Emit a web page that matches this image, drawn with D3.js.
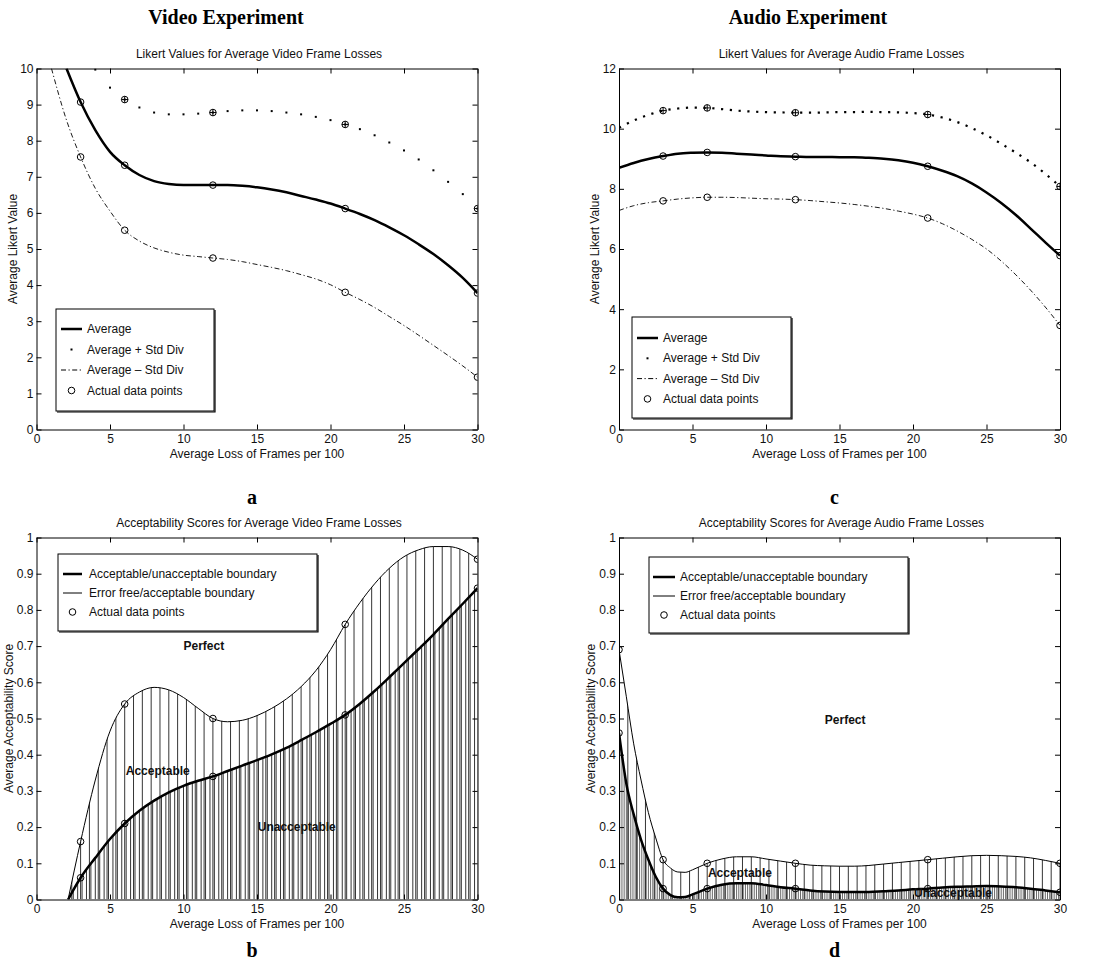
<!DOCTYPE html>
<html>
<head>
<meta charset="utf-8">
<script src="https://cdn.jsdelivr.net/npm/d3@7"></script>
<style>
  body { margin: 0; background: #fff; }
  svg text { font-family: "Liberation Sans", Arial, Helvetica, sans-serif; fill: #111; }
  svg .tick text { font-size: 12px; }
  svg text.heading { font-family: "Liberation Serif", "Times New Roman", serif; font-weight: bold; font-size: 20px; fill: #000; }
  svg text.zone { font-weight: bold; font-size: 12px; }
</style>
</head>
<body>
<div id="chart"></div>
<script>
// ---------- values ----------
var xTicks = [0, 5, 10, 15, 20, 25, 30];
var likertTicksVideo = [0, 1, 2, 3, 4, 5, 6, 7, 8, 9, 10];
var likertTicksAudio = [0, 2, 4, 6, 8, 10, 12];
var accTicks = [0, 0.1, 0.2, 0.3, 0.4, 0.5, 0.6, 0.7, 0.8, 0.9, 1];

// measured loss levels (frames per 100)
var lossPoints = [3, 6, 12, 21, 30];
var lossPointsAudioAcc = [0, 3, 6, 12, 21, 30];

// (a) video likert: measured points
var videoAvg = [9.07, 7.32, 6.77, 6.12, 3.78];
var videoPlus = [10.59, 9.14, 8.78, 8.45, 6.12];
var videoMinus = [7.55, 5.52, 4.75, 3.80, 1.45];
// (a) fitted curves, read at whole frame counts
var videoAvgCurve = [[2.04,10],[3,9.07],[4,8.29],[5,7.69],[6,7.32],[7,7.05],[8,6.88],[9,6.80],[10,6.77],[11,6.77],[12,6.77],[13,6.77],[14,6.75],[15,6.71],[16,6.65],[17,6.57],[18,6.47],[19,6.37],[20,6.26],[21,6.12],[22,5.97],[23,5.80],[24,5.60],[25,5.38],[26,5.13],[27,4.86],[28,4.55],[29,4.20],[30,3.78]];
var videoPlusDots = [[4,9.97],[5,9.47],[6,9.14],[7,8.92],[8,8.78],[9,8.73],[10,8.73],[11,8.75],[12,8.78],[13,8.82],[14,8.84],[15,8.84],[16,8.82],[17,8.78],[18,8.73],[19,8.66],[20,8.57],[21,8.45],[22,8.32],[23,8.15],[24,7.95],[25,7.73],[26,7.48],[27,7.18],[28,6.86],[29,6.52],[30,6.12]];
var videoMinusCurve = [[1.02,10],[2,8.62],[3,7.55],[4,6.68],[5,6.05],[6,5.52],[7,5.22],[8,5.03],[9,4.91],[10,4.83],[11,4.79],[12,4.75],[13,4.71],[14,4.65],[15,4.57],[16,4.49],[17,4.40],[18,4.29],[19,4.17],[20,4.01],[21,3.80],[22,3.60],[23,3.38],[24,3.13],[25,2.88],[26,2.61],[27,2.33],[28,2.05],[29,1.76],[30,1.45]];

// (c) audio likert: measured points
var audioAvg = [9.09, 9.21, 9.07, 8.75, 5.78];
var audioPlus = [10.60, 10.69, 10.53, 10.47, 8.08];
var audioMinus = [7.60, 7.72, 7.64, 7.03, 3.46];
// (c) fitted curves
var audioAvgCurve = [[0,8.70],[1,8.86],[2,8.99],[3,9.09],[4,9.17],[5,9.20],[6,9.21],[7,9.20],[8,9.17],[9,9.14],[10,9.11],[11,9.08],[12,9.07],[13,9.06],[14,9.06],[15,9.05],[16,9.05],[17,9.03],[18,9.00],[19,8.95],[20,8.87],[21,8.75],[22,8.60],[23,8.42],[24,8.18],[25,7.88],[26,7.53],[27,7.13],[28,6.68],[29,6.22],[30,5.78]];
var audioPlusCurve = [[0,10.03],[1,10.27],[2,10.46],[3,10.60],[4,10.67],[5,10.70],[6,10.69],[7,10.65],[8,10.60],[9,10.57],[10,10.55],[11,10.54],[12,10.53],[13,10.53],[14,10.54],[15,10.55],[16,10.55],[17,10.56],[18,10.55],[19,10.54],[20,10.52],[21,10.47],[22,10.37],[23,10.22],[24,10.02],[25,9.78],[26,9.50],[27,9.20],[28,8.88],[29,8.50],[30,8.08]];
var audioMinusCurve = [[0,7.28],[1,7.44],[2,7.54],[3,7.60],[4,7.66],[5,7.70],[6,7.72],[7,7.72],[8,7.71],[9,7.69],[10,7.67],[11,7.66],[12,7.64],[13,7.61],[14,7.57],[15,7.53],[16,7.48],[17,7.42],[18,7.35],[19,7.26],[20,7.16],[21,7.03],[22,6.84],[23,6.60],[24,6.32],[25,6.00],[26,5.60],[27,5.14],[28,4.63],[29,4.07],[30,3.46]];

// (b) video acceptability: measured points
var videoErrorFree = [0.16, 0.54, 0.50, 0.76, 0.94];
var videoAcceptable = [0.06, 0.21, 0.34, 0.51, 0.86];
// (b) fitted boundaries
var videoErrorFreeCurve = [[2.15,0],[3,0.16],[4,0.33],[5,0.465],[6,0.54],[7,0.573],[8,0.586],[9,0.579],[10,0.558],[11,0.528],[12,0.50],[13,0.491],[14,0.495],[15,0.508],[16,0.528],[17,0.554],[18,0.588],[19,0.632],[20,0.69],[21,0.76],[22,0.82],[23,0.872],[24,0.915],[25,0.947],[26,0.966],[27,0.975],[28,0.975],[29,0.965],[30,0.94]];
var videoAcceptableCurve = [[2.15,0],[3,0.06],[4,0.115],[5,0.167],[6,0.21],[7,0.245],[8,0.273],[9,0.296],[10,0.314],[11,0.328],[12,0.34],[13,0.355],[14,0.37],[15,0.385],[16,0.401],[17,0.419],[18,0.44],[19,0.462],[20,0.485],[21,0.51],[22,0.541],[23,0.576],[24,0.614],[25,0.653],[26,0.692],[27,0.732],[28,0.775],[29,0.817],[30,0.86]];

// (d) audio acceptability: measured points
var audioErrorFree = [0.69, 0.11, 0.10, 0.10, 0.11, 0.10];
var audioAcceptable = [0.46, 0.03, 0.03, 0.03, 0.03, 0.02];
// (d) fitted boundaries
var audioErrorFreeCurve = [[0,0.69],[0.5,0.56],[1,0.43],[1.5,0.33],[2,0.24],[2.5,0.17],[3,0.11],[3.5,0.087],[4,0.076],[4.5,0.075],[5,0.082],[6,0.10],[7,0.112],[8,0.118],[9,0.118],[10,0.112],[11,0.106],[12,0.10],[13,0.095],[14,0.093],[15,0.092],[16,0.092],[17,0.094],[18,0.098],[19,0.102],[20,0.106],[21,0.11],[22,0.114],[23,0.118],[24,0.121],[25,0.122],[26,0.121],[27,0.119],[28,0.115],[29,0.108],[30,0.10]];
var audioAcceptableCurve = [[0,0.46],[0.5,0.32],[1,0.235],[1.5,0.165],[2,0.11],[2.5,0.063],[3,0.03],[3.5,0.012],[4,0.006],[4.5,0.007],[5,0.014],[6,0.03],[7,0.041],[8,0.045],[9,0.045],[10,0.04],[11,0.034],[12,0.03],[13,0.025],[14,0.022],[15,0.021],[16,0.021],[17,0.021],[18,0.023],[19,0.025],[20,0.028],[21,0.03],[22,0.033],[23,0.035],[24,0.036],[25,0.037],[26,0.036],[27,0.034],[28,0.03],[29,0.025],[30,0.02]];

// ---------- drawing ----------
var svg = d3.select("#chart").append("svg")
    .attr("width", 1098)
    .attr("height", 963);

var dashDot = "5,2.5,1.2,2.5";

svg.append("text").attr("class", "heading")
    .attr("x", 226).attr("y", 24).attr("text-anchor", "middle")
    .text("Video Experiment");
svg.append("text").attr("class", "heading")
    .attr("x", 808).attr("y", 24).attr("text-anchor", "middle")
    .text("Audio Experiment");

function panel(id, box, yDomain, yTicks, title, yLabel, letter, letterY, yLabelOff) {
  var g = svg.append("g").attr("id", id);
  var x = d3.scaleLinear().domain([0, 30]).range([box.x0, box.x1]);
  var y = d3.scaleLinear().domain(yDomain).range([box.y1, box.y0]);

  g.append("clipPath").attr("id", id + "-clip").append("rect")
      .attr("x", box.x0).attr("y", box.y0)
      .attr("width", box.x1 - box.x0).attr("height", box.y1 - box.y0);
  var plot = g.append("g").attr("clip-path", "url(#" + id + "-clip)");

  // box with inward ticks on all four sides
  var axes = g.append("g");
  axes.append("g").attr("transform", "translate(0," + box.y1 + ")")
      .call(d3.axisBottom(x).tickValues(xTicks).tickSize(-5).tickSizeOuter(0).tickPadding(5));
  axes.append("g").attr("transform", "translate(0," + box.y0 + ")")
      .call(d3.axisTop(x).tickValues(xTicks).tickSize(-5).tickSizeOuter(0).tickFormat(""));
  axes.append("g").attr("transform", "translate(" + box.x0 + ",0)")
      .call(d3.axisLeft(y).tickValues(yTicks).tickSize(-5).tickSizeOuter(0).tickPadding(3).tickFormat(d => String(d)));
  axes.append("g").attr("transform", "translate(" + box.x1 + ",0)")
      .call(d3.axisRight(y).tickValues(yTicks).tickSize(-5).tickSizeOuter(0).tickFormat(""));
  axes.selectAll("path.domain").attr("stroke", "#000");
  axes.selectAll(".tick line").attr("stroke", "#000");

  var cx = (box.x0 + box.x1) / 2;
  g.append("text")
      .attr("x", cx + 2).attr("y", box.y0 - 11)
      .attr("text-anchor", "middle").style("font-size", "12px")
      .text(title);
  g.append("text")
      .attr("x", cx).attr("y", box.y1 + 28)
      .attr("text-anchor", "middle").style("font-size", "12px")
      .text("Average Loss of Frames per 100");
  g.append("text")
      .attr("transform", "rotate(-90)")
      .attr("x", -(box.y0 + box.y1) / 2).attr("y", box.x0 + yLabelOff)
      .attr("text-anchor", "middle").style("font-size", "12px")
      .text(yLabel);
  g.append("text").attr("class", "heading")
      .attr("x", cx - 5).attr("y", letterY).attr("text-anchor", "middle")
      .text(letter);

  var top = g.append("g");
  return {x: x, y: y, plot: plot, top: top};
}

function curve(p, data, width, dash) {
  var line = d3.line().x(d => p.x(d[0])).y(d => p.y(d[1])).curve(d3.curveMonotoneX);
  var path = p.plot.append("path")
      .attr("d", line(data))
      .attr("fill", "none")
      .attr("stroke", "#000")
      .attr("stroke-width", width);
  if (dash) path.attr("stroke-dasharray", dash);
  return path;
}

function markers(p, xs, vals, plus) {
  var pts = xs.map((v, i) => [v, vals[i]]);
  var m = p.plot.append("g").selectAll("g").data(pts).join("g")
      .attr("transform", d => "translate(" + p.x(d[0]) + "," + p.y(d[1]) + ")");
  m.append("circle").attr("r", 3.3)
      .attr("fill", "none").attr("stroke", "#000").attr("stroke-width", 1);
  if (plus) {
    m.append("path").attr("d", "M-3.3,0H3.3M0,-3.3V3.3")
        .attr("stroke", "#000").attr("stroke-width", 1);
  }
}

function hatch(p, id, data, step, offset, width) {
  var area = d3.area()
      .x(d => p.x(d[0]))
      .y0(p.y(0))
      .y1(d => p.y(d[1]))
      .curve(d3.curveMonotoneX);
  p.plot.append("clipPath").attr("id", id).append("path").attr("d", area(data));
  p.plot.append("g").attr("clip-path", "url(#" + id + ")")
      .selectAll("line").data(d3.range(offset, 30.001, step)).join("line")
      .attr("x1", d => p.x(d)).attr("x2", d => p.x(d))
      .attr("y1", p.y(0)).attr("y2", p.y(p.y.domain()[1]))
      .attr("stroke", "#000").attr("stroke-width", width);
}

function legend(p, box, rows) {
  var lg = p.top.append("g");
  lg.append("rect")
      .attr("x", box.x0).attr("y", box.y0)
      .attr("width", box.x1 - box.x0).attr("height", box.y1 - box.y0)
      .attr("fill", "#fff").attr("stroke", "#000").attr("stroke-width", 1);
  lg.append("path")
      .attr("d", "M" + (box.x0 + 1) + "," + (box.y1 + 1) + "H" + (box.x1 + 1) + "V" + (box.y0 + 1))
      .attr("fill", "none").attr("stroke", "#000").attr("stroke-width", 1.2);
  rows.forEach(function(r, i) {
    var yy = box.rowY + i * box.rowStep;
    var mid = (box.s0 + box.s1) / 2;
    if (r.type === "thick" || r.type === "thin" || r.type === "dashdot") {
      var l = lg.append("line")
          .attr("x1", box.s0).attr("x2", box.s1).attr("y1", yy).attr("y2", yy)
          .attr("stroke", "#000")
          .attr("stroke-width", r.type === "thick" ? 2.5 : 1);
      if (r.type === "dashdot") l.attr("stroke-dasharray", dashDot);
    } else if (r.type === "dot") {
      lg.append("rect").attr("x", mid - 1).attr("y", yy - 1)
          .attr("width", 2).attr("height", 2).attr("fill", "#000");
    } else if (r.type === "circle") {
      lg.append("circle").attr("cx", mid).attr("cy", yy).attr("r", 3.3)
          .attr("fill", "none").attr("stroke", "#000");
    }
    lg.append("text")
        .attr("x", box.tx).attr("y", yy + 4)
        .style("font-size", "12px")
        .text(r.label);
  });
}

function zone(p, px, py, label) {
  p.top.append("text").attr("class", "zone")
      .attr("x", p.x(px)).attr("y", p.y(py))
      .text(label);
}

// ---- (a) video Likert ----
var pa = panel("pa", {x0: 36.5, x1: 477.5, y0: 68.5, y1: 429.5}, [0, 10], likertTicksVideo,
    "Likert Values for Average Video Frame Losses", "Average Likert Value", "a", 504, -20);
curve(pa, videoMinusCurve, 0.9, dashDot);
curve(pa, videoAvgCurve, 2.5);
pa.plot.append("g").selectAll("rect").data(videoPlusDots).join("rect")
    .attr("x", d => pa.x(d[0]) - 1).attr("y", d => pa.y(d[1]) - 1)
    .attr("width", 2).attr("height", 2).attr("fill", "#000");
markers(pa, lossPoints, videoAvg);
markers(pa, lossPoints, videoMinus);
markers(pa, lossPoints, videoPlus, true);
legend(pa, {x0: 56, x1: 214, y0: 309, y1: 411, rowY: 329, rowStep: 20.5, s0: 61, s1: 82, tx: 87}, [
  {type: "thick", label: "Average"},
  {type: "dot", label: "Average + Std Div"},
  {type: "dashdot", label: "Average \u2013 Std Div"},
  {type: "circle", label: "Actual data points"}
]);

// ---- (c) audio Likert ----
var pc = panel("pc", {x0: 619, x1: 1060, y0: 68.5, y1: 429.5}, [0, 12], likertTicksAudio,
    "Likert Values for Average Audio Frame Losses", "Average Likert Value", "c", 504, -20);
curve(pc, audioMinusCurve, 0.9, dashDot);
curve(pc, audioAvgCurve, 2.5);
curve(pc, audioPlusCurve, 2.2, "2.2,6.6");
markers(pc, lossPoints, audioAvg);
markers(pc, lossPoints, audioMinus);
markers(pc, lossPoints, audioPlus, true);
legend(pc, {x0: 632, x1: 791, y0: 317, y1: 418, rowY: 338, rowStep: 20.3, s0: 637, s1: 658, tx: 663}, [
  {type: "thick", label: "Average"},
  {type: "dot", label: "Average + Std Div"},
  {type: "dashdot", label: "Average \u2013 Std Div"},
  {type: "circle", label: "Actual data points"}
]);

// ---- (b) video acceptability ----
var pb = panel("pb", {x0: 36.5, x1: 477.5, y0: 537.5, y1: 899.5}, [0, 1], accTicks,
    "Acceptability Scores for Average Video Frame Losses", "Average Acceptability Score", "b", 957, -23.5);
hatch(pb, "hb-upper", videoErrorFreeCurve, 0.6, 0, 0.8);
hatch(pb, "hb-lower", videoAcceptableCurve, 0.3, 0.1, 0.8);
curve(pb, videoErrorFreeCurve, 1);
curve(pb, videoAcceptableCurve, 2.5);
markers(pb, lossPoints, videoErrorFree);
markers(pb, lossPoints, videoAcceptable);
zone(pb, 10.0, 0.688, "Perfect");
zone(pb, 6.07, 0.343, "Acceptable");
zone(pb, 15.05, 0.188, "Unacceptable");
legend(pb, {x0: 58, x1: 317, y0: 554, y1: 631, rowY: 574, rowStep: 19, s0: 63, s1: 82, tx: 89}, [
  {type: "thick", label: "Acceptable/unacceptable boundary"},
  {type: "thin", label: "Error free/acceptable boundary"},
  {type: "circle", label: "Actual data points"}
]);

// ---- (d) audio acceptability ----
var pd = panel("pd", {x0: 619, x1: 1060, y0: 537.5, y1: 899.5}, [0, 1], accTicks,
    "Acceptability Scores for Average Audio Frame Losses", "Average Acceptability Score", "d", 957, -24);
hatch(pd, "hd-upper", audioErrorFreeCurve, 0.6, 0, 0.8);
hatch(pd, "hd-lower", audioAcceptableCurve, 0.15, 0.05, 0.6);
curve(pd, audioErrorFreeCurve, 1);
curve(pd, audioAcceptableCurve, 2.5);
markers(pd, lossPointsAudioAcc, audioErrorFree);
markers(pd, lossPointsAudioAcc, audioAcceptable);
zone(pd, 14.0, 0.486, "Perfect");
zone(pd, 6.05, 0.061, "Acceptable");
zone(pd, 20.07, 0.008, "Unacceptable");
legend(pd, {x0: 649, x1: 908, y0: 557, y1: 633, rowY: 577, rowStep: 19, s0: 653, s1: 675, tx: 680}, [
  {type: "thick", label: "Acceptable/unacceptable boundary"},
  {type: "thin", label: "Error free/acceptable boundary"},
  {type: "circle", label: "Actual data points"}
]);
</script>
</body>
</html>
